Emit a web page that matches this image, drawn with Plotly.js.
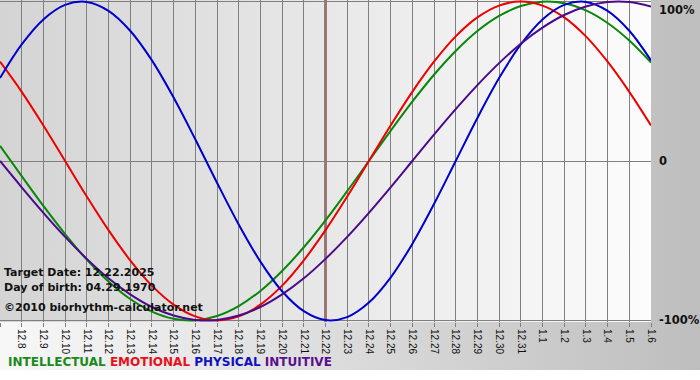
<!DOCTYPE html>
<html>
<head>
<meta charset="utf-8">
<script src="https://cdn.plot.ly/plotly-3.0.1.min.js"></script>
<style>
  html, body { margin: 0; padding: 0; background: #ffffff; }
  #wrap { position: relative; width: 700px; height: 380px; overflow: hidden; background: #ffffff; }
  #outerbg { position: absolute; left: 0; top: 0; width: 700px; height: 370px;
             background: linear-gradient(to right, #f8f8f8, #bebebe); }
  #plotbg { position: absolute; left: 0; top: 0; width: 651px; height: 322px;
            background: linear-gradient(to right, #d4d4d4, #fcfcfc); }
  #chart { position: absolute; left: 0; top: 0; width: 700px; height: 380px; }
</style>
</head>
<body>
<div id="wrap">
  <div id="outerbg"></div>
  <div id="plotbg"></div>
  <div id="chart"></div>
</div>
<script>
// Days shown on the x axis
const dayLabels = ['12.7','12.8','12.9','12.10','12.11','12.12','12.13','12.14','12.15','12.16',
  '12.17','12.18','12.19','12.20','12.21','12.22','12.23','12.24','12.25','12.26',
  '12.27','12.28','12.29','12.30','12.31','1.1','1.2','1.3','1.4','1.5','1.6'];
const targetDay = '12.22';

// Cycle values in percent, one per day
const intellectual = [9.5,-9.5,-28.2,-45.8,-61.8,-75.6,-86.6,-94.5,-99.0,-99.9,
  -97.2,-91.0,-81.5,-69.0,-54.1,-37.2,-18.9,0,18.9,37.2,
  54.1,69.0,81.5,91.0,97.2,99.9,99.0,94.5,86.6,75.6,61.8];
const emotional = [62.3,43.4,22.3,0,-22.3,-43.4,-62.3,-78.2,-90.1,-97.5,
  -100,-97.5,-90.1,-78.2,-62.3,-43.4,-22.3,0,22.3,43.4,
  62.3,78.2,90.1,97.5,100,97.5,90.1,78.2,62.3,43.4,22.3];
const physical = [52.0,73.1,88.8,97.9,99.8,94.2,81.7,63.1,39.8,13.6,
  -13.6,-39.8,-63.1,-81.7,-94.2,-99.8,-97.9,-88.8,-73.1,-52.0,
  -27.0,0,27.0,52.0,73.1,88.8,97.9,99.8,94.2,81.7,63.1];
const intuitive = [0,-16.5,-32.5,-47.6,-61.4,-73.6,-83.7,-91.6,-96.9,-99.7,
  -99.7,-96.9,-91.6,-83.7,-73.6,-61.4,-47.6,-32.5,-16.5,0,
  16.5,32.5,47.6,61.4,73.6,83.7,91.6,96.9,99.7,99.7,96.9];

const seriesNames = ['INTELLECTUAL','EMOTIONAL','PHYSICAL','INTUITIVE'];
const seriesColors = ['#0a870a','#ee0000','#0000cc','#4b0a8c'];
const legendColors = ['#1a8a1a','#e8101a','#1010c0','#5a1090'];
const yTickVals = [-100, 0, 100];
const yTickText = ['-100%', '0', '100%'];
const infoLines = ['Target Date: 12.22.2025', 'Day of birth: 04.29.1970', '\u00a92010 biorhythm-calculator.net'];

const xIdx = dayLabels.map((d, i) => i);
const allSeries = [intellectual, emotional, physical, intuitive];

const traces = allSeries.map((ys, k) => ({
  type: 'scatter', mode: 'lines',
  x: xIdx, y: ys, name: seriesNames[k],
  line: { color: seriesColors[k], width: 2, shape: 'spline', smoothing: 1 },
  hoverinfo: 'skip'
}));

const boldFont = (size, color) => ({ family: 'DejaVu Sans, Verdana, sans-serif', size: size, color: color, weight: 'bold' });

const annotations = [];
// y labels on the right
yTickVals.forEach((v, i) => {
  annotations.push({
    xref: 'paper', x: 1, xanchor: 'left', xshift: 6,
    yref: 'y', y: v, yanchor: v === 100 ? 'top' : 'middle', yshift: v === 100 ? 1 : 0,
    text: yTickText[i], showarrow: false, font: boldFont(11.5, '#111111')
  });
});
// info text lines
const infoY = [272, 287, 307];
infoLines.forEach((t, i) => {
  annotations.push({
    xref: 'paper', x: 0, xanchor: 'left', xshift: 2,
    yref: 'paper', y: 1 - infoY[i] / 322, yanchor: 'middle',
    text: t, showarrow: false, font: boldFont(11, '#111111')
  });
});
// colored legend line
annotations.push({
  xref: 'paper', x: 0, xanchor: 'left', xshift: 6,
  yref: 'paper', y: 1 - 362 / 322, yanchor: 'middle',
  text: seriesNames.map((n, k) => '<span style="color:' + legendColors[k] + '">' + n + '</span>').join(' '),
  showarrow: false, font: boldFont(12, '#000000')
});

const targetIdx = dayLabels.indexOf(targetDay);

const layout = {
  width: 700, height: 380,
  margin: { l: 0, r: 49, t: 0, b: 58, pad: 0 },
  paper_bgcolor: 'rgba(0,0,0,0)',
  plot_bgcolor: 'rgba(0,0,0,0)',
  showlegend: false,
  xaxis: {
    range: [0, dayLabels.length - 1],
    tickmode: 'array', tickvals: xIdx, ticktext: dayLabels,
    tickangle: 90, ticks: 'outside', ticklen: 4, tickcolor: '#808080', tickwidth: 1,
    tickfont: { family: 'Liberation Sans, Arial, sans-serif', size: 10, color: '#111111' },
    showgrid: true, gridcolor: '#7f7f7f', gridwidth: 1,
    zeroline: false, showline: false, fixedrange: true
  },
  yaxis: {
    range: [-101, 101],
    tickmode: 'array', tickvals: yTickVals, showticklabels: false,
    showgrid: true, gridcolor: '#7f7f7f', gridwidth: 1,
    zeroline: true, zerolinecolor: '#7f7f7f', zerolinewidth: 1,
    ticks: '', fixedrange: true
  },
  shapes: [{
    type: 'line', layer: 'between', xref: 'x', yref: 'paper',
    x0: targetIdx, x1: targetIdx, y0: 0, y1: 1,
    line: { color: '#660000', width: 2 }
  }],
  annotations: annotations
};

Plotly.newPlot('chart', traces, layout, { staticPlot: true, displayModeBar: false }).then(gd => {
  const s = gd._fullLayout._size;
  const bg = document.getElementById('plotbg');
  bg.style.left = s.l + 'px';
  bg.style.top = s.t + 'px';
  bg.style.width = s.w + 'px';
  bg.style.height = s.h + 'px';
});
</script>
</body>
</html>
